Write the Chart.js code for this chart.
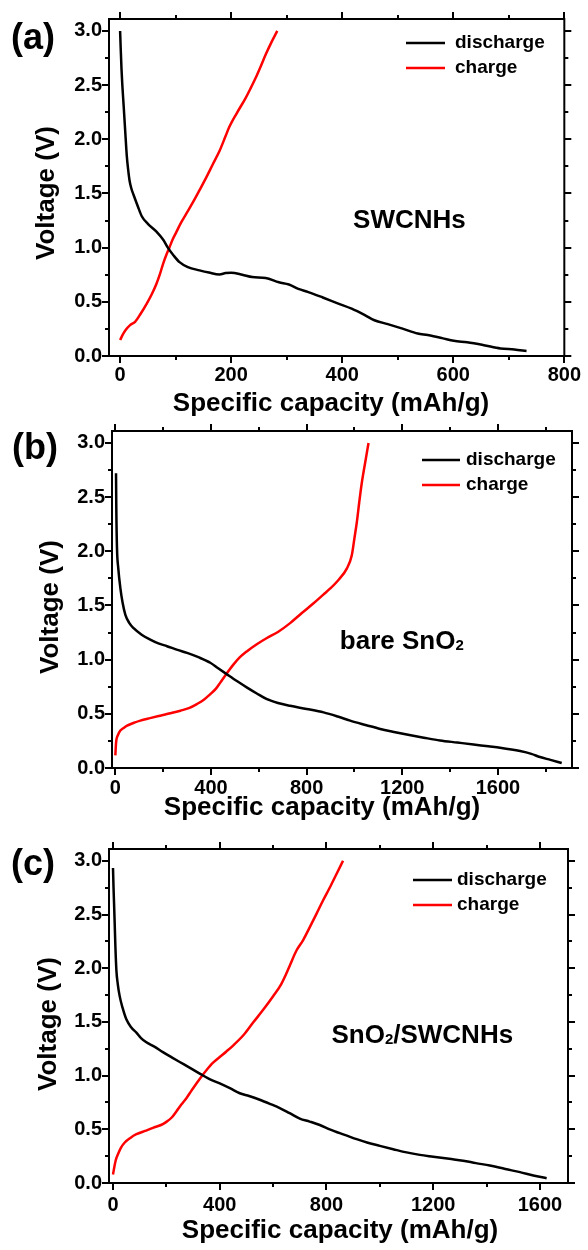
<!DOCTYPE html>
<html>
<head>
<meta charset="utf-8">
<script src="https://cdn.jsdelivr.net/npm/chart.js@4.4.0/dist/chart.umd.min.js"></script>
<style>
body { margin: 0; background: #fff; width: 588px; height: 1250px; position: relative; overflow: hidden; }
.panel { position: absolute; left: 0; width: 588px; height: 420px; }
</style>
</head>
<body>
<div class="panel" style="top:0px"><canvas id="chartA" width="588" height="420"></canvas></div>
<div class="panel" style="top:412px"><canvas id="chartB" width="588" height="420"></canvas></div>
<div class="panel" style="top:830px"><canvas id="chartC" width="588" height="420"></canvas></div>
<script>
// (a) SWCNHs
var capA_dis  = [0, 1, 2.5, 4, 6.5, 9.5, 12, 14.5, 17, 20, 24, 32, 39, 50, 65, 78, 86, 96, 107, 122, 143, 160, 179, 190, 200, 220, 238, 262, 286, 304, 321, 339, 365, 393, 417, 440, 458, 482, 510, 536, 554, 580, 601, 625, 655, 685, 710, 732];
var voltA_dis = [3.0, 2.85, 2.65, 2.5, 2.3, 2.05, 1.85, 1.72, 1.62, 1.55, 1.49, 1.38, 1.29, 1.22, 1.15, 1.07, 1.0, 0.93, 0.866, 0.82, 0.79, 0.77, 0.753, 0.765, 0.768, 0.75, 0.728, 0.72, 0.68, 0.66, 0.62, 0.59, 0.54, 0.484, 0.437, 0.38, 0.33, 0.294, 0.25, 0.208, 0.193, 0.165, 0.14, 0.126, 0.1, 0.07, 0.06, 0.046];
var capA_chg  = [0, 5, 10, 18, 27, 37, 48, 57, 65.5, 72, 77.4, 83, 89, 95, 101, 110, 120, 131, 143, 155, 167, 179, 190, 196, 210, 226, 235, 244, 253, 262, 272, 283];
var voltA_chg = [0.147, 0.2, 0.24, 0.285, 0.315, 0.39, 0.484, 0.57, 0.667, 0.76, 0.851, 0.93, 1.004, 1.08, 1.141, 1.233, 1.32, 1.417, 1.53, 1.646, 1.77, 1.892, 2.03, 2.106, 2.24, 2.38, 2.47, 2.565, 2.67, 2.78, 2.89, 3.0];

// (b) bare SnO2
var capB_dis  = [2.8, 4, 7, 12, 21, 30, 42, 58, 76.5, 110, 146, 180, 216, 260, 300, 350, 397, 430, 467, 510, 551, 590, 634, 680, 731, 800, 871, 930, 982, 1050, 1108, 1160, 1219, 1290, 1358, 1430, 1498, 1560, 1609, 1693, 1740, 1776, 1820, 1867];
var voltB_dis = [2.72, 2.4, 2.02, 1.85, 1.66, 1.53, 1.414, 1.34, 1.29, 1.23, 1.185, 1.15, 1.124, 1.09, 1.062, 1.02, 0.971, 0.92, 0.864, 0.8, 0.742, 0.69, 0.635, 0.6, 0.574, 0.545, 0.513, 0.475, 0.437, 0.395, 0.36, 0.335, 0.309, 0.28, 0.254, 0.235, 0.217, 0.2, 0.187, 0.156, 0.13, 0.101, 0.075, 0.046];
var capB_chg  = [0, 2, 4, 10, 21, 35, 49, 75, 104.5, 145, 188, 230, 272, 310, 341, 370, 397, 420, 439, 465, 494.5, 520, 551, 590, 634, 680, 731, 780, 829, 870, 899, 935, 968, 989, 1000, 1010, 1020, 1031, 1045, 1059];
var voltB_chg = [0.116, 0.2, 0.254, 0.3, 0.345, 0.37, 0.391, 0.415, 0.437, 0.46, 0.483, 0.505, 0.529, 0.555, 0.59, 0.63, 0.681, 0.73, 0.788, 0.87, 0.956, 1.02, 1.078, 1.14, 1.2, 1.255, 1.337, 1.43, 1.52, 1.6, 1.657, 1.74, 1.84, 1.963, 2.12, 2.268, 2.45, 2.635, 2.82, 3.0];

// (c) SnO2/SWCNHs
var capC_dis  = [0, 2, 4, 6.4, 9, 12.7, 18, 25, 36, 50, 68, 87.7, 105, 125, 155, 187, 220, 250, 290, 325, 360, 400, 440, 475, 510, 550, 590, 625, 662, 700, 737, 775, 812, 860, 913, 955, 1000, 1050, 1100, 1150, 1200, 1260, 1312, 1360, 1412, 1470, 1525, 1575, 1625];
var voltC_dis = [2.933, 2.75, 2.6, 2.41, 2.2, 1.98, 1.85, 1.74, 1.63, 1.524, 1.45, 1.4, 1.35, 1.31, 1.27, 1.219, 1.17, 1.127, 1.07, 1.019, 0.97, 0.927, 0.88, 0.836, 0.81, 0.775, 0.735, 0.698, 0.65, 0.6, 0.572, 0.54, 0.5, 0.455, 0.408, 0.375, 0.346, 0.315, 0.285, 0.262, 0.245, 0.225, 0.208, 0.185, 0.163, 0.13, 0.101, 0.07, 0.045];
var capC_chg  = [0, 5, 10, 19, 30, 44, 65, 87.7, 120, 150, 180, 200, 220, 238, 256, 275, 294, 312.6, 331, 350, 375, 400, 425, 450, 490, 525, 562, 600, 630, 650, 665, 688, 712, 737, 762, 787, 812, 838, 862];
var voltC_chg = [0.08, 0.15, 0.21, 0.27, 0.33, 0.377, 0.42, 0.454, 0.485, 0.514, 0.54, 0.569, 0.61, 0.668, 0.73, 0.79, 0.86, 0.927, 0.99, 1.05, 1.12, 1.173, 1.225, 1.28, 1.38, 1.494, 1.61, 1.739, 1.85, 1.953, 2.04, 2.167, 2.26, 2.38, 2.504, 2.63, 2.749, 2.88, 3.0];

// tick values
var voltTicks  = [0, 0.5, 1.0, 1.5, 2.0, 2.5, 3.0];
var voltMinor  = [0.25, 0.75, 1.25, 1.75, 2.25, 2.75];
var capTicksA  = [0, 200, 400, 600, 800];
var capMinorA  = [100, 300, 500, 700];
var capTicksBC = [0, 400, 800, 1200, 1600];
var capMinorB  = [200, 600, 1000, 1400, 1800];
var capMinorC  = [200, 600, 1000, 1400];

var seriesNames = ['discharge', 'charge'];
var xTitle = 'Specific capacity (mAh/g)';
var yTitle = 'Voltage (V)';
var FONT = "'Liberation Sans', Arial, sans-serif";

Chart.defaults.font.family = FONT;
Chart.defaults.color = '#000';

function pairs(xs, ys) {
    var out = [];
    for (var i = 0; i < xs.length; i++) {
        out.push({ x: xs[i], y: ys[i] });
    }
    return out;
}

// box around the plot with outward ticks on all four sides
var framePlugin = {
    id: 'frame',
    afterDatasetsDraw: function(chart, args, opts) {
        var ctx = chart.ctx, a = chart.chartArea;
        var xs = chart.scales.x, ys = chart.scales.y;
        ctx.save();
        ctx.strokeStyle = '#000';
        ctx.lineWidth = 2;
        ctx.strokeRect(a.left, a.top, a.right - a.left, a.bottom - a.top);
        ctx.beginPath();
        function xTick(v, len) {
            var px = Math.round(xs.getPixelForValue(v));
            ctx.moveTo(px, a.bottom); ctx.lineTo(px, a.bottom + len);
            ctx.moveTo(px, a.top); ctx.lineTo(px, a.top - len);
        }
        function yTick(v, len) {
            var py = Math.round(ys.getPixelForValue(v));
            ctx.moveTo(a.left, py); ctx.lineTo(a.left - len, py);
            ctx.moveTo(a.right, py); ctx.lineTo(a.right + len, py);
        }
        opts.xMajor.forEach(function(v) { xTick(v, 7); });
        opts.xMinor.forEach(function(v) { xTick(v, 4); });
        voltTicks.forEach(function(v) { yTick(v, 7); });
        voltMinor.forEach(function(v) { yTick(v, 4); });
        ctx.stroke();
        ctx.restore();
    }
};

// axis titles, legend, sample name and panel letter
var notesPlugin = {
    id: 'notes',
    afterDraw: function(chart, args, opts) {
        var ctx = chart.ctx;
        ctx.save();
        ctx.fillStyle = '#000';

        // panel letter
        ctx.font = 'bold 36px ' + FONT;
        ctx.textAlign = 'left';
        ctx.textBaseline = 'alphabetic';
        ctx.fillText(opts.letter, opts.letterPos[0], opts.letterPos[1]);

        // axis titles
        ctx.font = 'bold 26px ' + FONT;
        ctx.textAlign = 'center';
        ctx.textBaseline = 'middle';
        ctx.fillText(xTitle, opts.xTitleAt[0], opts.xTitleAt[1]);
        ctx.save();
        ctx.translate(opts.yTitleAt[0], opts.yTitleAt[1]);
        ctx.rotate(-Math.PI / 2);
        ctx.fillText(yTitle, 0, 0);
        ctx.restore();

        // legend
        var lg = opts.legend;
        ctx.font = 'bold 19px ' + FONT;
        ctx.textAlign = 'left';
        ctx.textBaseline = 'middle';
        chart.data.datasets.forEach(function(ds, i) {
            var y = lg.y + i * 25;
            ctx.strokeStyle = ds.borderColor;
            ctx.lineWidth = 2.5;
            ctx.beginPath();
            ctx.moveTo(lg.x0, y);
            ctx.lineTo(lg.x1, y);
            ctx.stroke();
            ctx.fillStyle = '#000';
            ctx.fillText(ds.label, lg.tx, y);
        });

        // sample name, placed in data units
        var px = chart.scales.x.getPixelForValue(opts.nameAt[0]);
        var py = chart.scales.y.getPixelForValue(opts.nameAt[1]);
        var big = 'bold 26px ' + FONT, small = 'bold 15px ' + FONT;
        var total = 0;
        opts.name.forEach(function(seg) {
            ctx.font = seg.sub ? small : big;
            total += ctx.measureText(seg.t).width;
        });
        var x = px - total / 2;
        ctx.textBaseline = 'alphabetic';
        opts.name.forEach(function(seg) {
            ctx.font = seg.sub ? small : big;
            ctx.fillText(seg.t, x, py + 9 + (seg.sub ? 1 : 0));
            x += ctx.measureText(seg.t).width;
        });
        ctx.restore();
    }
};

function makeChart(id, p) {
    var ctx = document.getElementById(id).getContext('2d');
    return new Chart(ctx, {
        type: 'line',
        data: {
            datasets: [
                {
                    label: seriesNames[0],
                    data: pairs(p.dis[0], p.dis[1]),
                    borderColor: '#000000',
                    borderWidth: 2.5,
                    pointRadius: 0,
                    fill: false,
                    cubicInterpolationMode: 'monotone'
                },
                {
                    label: seriesNames[1],
                    data: pairs(p.chg[0], p.chg[1]),
                    borderColor: '#ff0000',
                    borderWidth: 2.5,
                    pointRadius: 0,
                    fill: false,
                    cubicInterpolationMode: 'monotone'
                }
            ]
        },
        options: {
            responsive: false,
            animation: false,
            layout: { padding: { left: 0, top: p.area.top, right: 588 - p.area.right, bottom: 0 } },
            scales: {
                x: {
                    type: 'linear',
                    min: p.xMin,
                    max: p.xMax,
                    grid: { display: false, drawTicks: false },
                    border: { display: false },
                    afterBuildTicks: function(s) {
                        s.ticks = p.xMajor.map(function(v) { return { value: v }; });
                    },
                    afterFit: function(s) { s.height = 420 - p.area.bottom; },
                    ticks: {
                        padding: p.xTickPad,
                        maxRotation: 0,
                        font: { size: 20, weight: 'bold' },
                        callback: function(v) { return String(v); }
                    }
                },
                y: {
                    type: 'linear',
                    min: 0,
                    max: 3.11,
                    grid: { display: false, drawTicks: false },
                    border: { display: false },
                    afterBuildTicks: function(s) {
                        s.ticks = voltTicks.map(function(v) { return { value: v }; });
                    },
                    afterFit: function(s) { s.width = p.area.left; },
                    ticks: {
                        padding: 7,
                        font: { size: 20, weight: 'bold' },
                        callback: function(v) { return Number(v).toFixed(1); }
                    }
                }
            },
            plugins: {
                legend: { display: false },
                tooltip: { enabled: false },
                frame: { xMajor: p.xMajor, xMinor: p.xMinor },
                notes: {
                    letter: p.letter,
                    letterPos: p.letterPos,
                    xTitleAt: p.xTitleAt,
                    yTitleAt: p.yTitleAt,
                    legend: p.legend,
                    name: p.name,
                    nameAt: p.nameAt
                }
            }
        },
        plugins: [framePlugin, notesPlugin]
    });
}

makeChart('chartA', {
    dis: [capA_dis, voltA_dis], chg: [capA_chg, voltA_chg],
    xMin: -20, xMax: 800, xMajor: capTicksA, xMinor: capMinorA,
    area: { left: 109, top: 17, right: 568, bottom: 356 },
    xTickPad: 7, xTitleAt: [331, 404], yTitleAt: [47, 193],
    letter: '(a)', letterPos: [11, 49],
    legend: { x0: 406, x1: 445, tx: 455, y: 43 },
    name: [{ t: 'SWCNHs' }], nameAt: [521, 1.26]
});

makeChart('chartB', {
    dis: [capB_dis, voltB_dis], chg: [capB_chg, voltB_chg],
    xMin: -14, xMax: 1910, xMajor: capTicksBC, xMinor: capMinorB,
    area: { left: 112, top: 17, right: 572, bottom: 356 },
    xTickPad: 8, xTitleAt: [322, 396], yTitleAt: [51, 195],
    letter: '(b)', letterPos: [12, 47],
    legend: { x0: 422, x1: 460, tx: 466, y: 48 },
    name: [{ t: 'bare SnO' }, { t: '2', sub: true }], nameAt: [1198, 1.18]
});

makeChart('chartC', {
    dis: [capC_dis, voltC_dis], chg: [capC_chg, voltC_chg],
    xMin: -15, xMax: 1705, xMajor: capTicksBC, xMinor: capMinorC,
    area: { left: 109, top: 14, right: 568, bottom: 353 },
    xTickPad: 10, xTitleAt: [340, 401], yTitleAt: [49, 194],
    letter: '(c)', letterPos: [11, 45],
    legend: { x0: 413, x1: 452, tx: 457, y: 50 },
    name: [{ t: 'SnO' }, { t: '2', sub: true }, { t: '/SWCNHs' }], nameAt: [1159, 1.39]
});
</script>
</body>
</html>
